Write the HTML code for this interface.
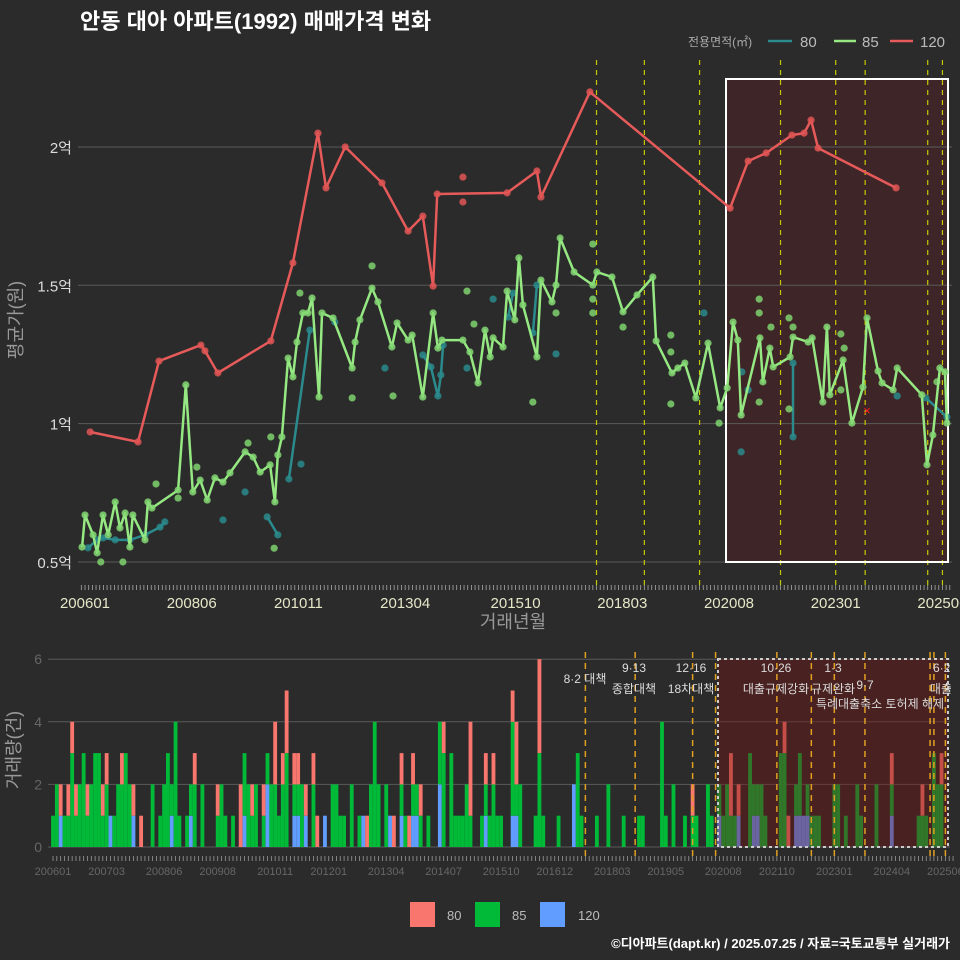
<!DOCTYPE html>
<html><head><meta charset="utf-8">
<style>
html,body{margin:0;padding:0;background:#2b2b2b;}
svg{display:block;font-family:"Liberation Sans","Noto Sans CJK KR",sans-serif;}
</style></head>
<body>
<svg id="chart" width="960" height="960" viewBox="0 0 960 960">
<rect x="0" y="0" width="960" height="960" fill="#2b2b2b"/>
<text x="80" y="29" fill="#ffffff" font-size="22" font-weight="bold">안동 대아 아파트(1992) 매매가격 변화</text>
<g>
<text x="688" y="46" fill="#aaaaaa" font-size="12">전용면적(㎡)</text>
<line x1="768" y1="41" x2="792" y2="41" stroke="#2a8a8c" stroke-width="2.5"/>
<text x="800" y="47" fill="#bbbbbb" font-size="15">80</text>
<line x1="834" y1="41" x2="856" y2="41" stroke="#95e882" stroke-width="2.5"/>
<text x="862" y="47" fill="#bbbbbb" font-size="15">85</text>
<line x1="890" y1="41" x2="913" y2="41" stroke="#e65a5a" stroke-width="2.5"/>
<text x="920" y="47" fill="#bbbbbb" font-size="15">120</text>
</g>
<g id="topPanel"></g>
<g id="botPanel"></g>
<g>
<rect x="410" y="902" width="25" height="25" fill="#F8766D"/>
<text x="447" y="920" fill="#bbbbbb" font-size="13">80</text>
<rect x="475" y="902" width="25" height="25" fill="#00BA38"/>
<text x="512" y="920" fill="#bbbbbb" font-size="13">85</text>
<rect x="540" y="902" width="25" height="25" fill="#619CFF"/>
<text x="578" y="920" fill="#bbbbbb" font-size="13">120</text>
</g>
<text x="950" y="948" fill="#ffffff" font-size="13" font-weight="bold" text-anchor="end">©디아파트(dapt.kr) / 2025.07.25 / 자료=국토교통부 실거래가</text>
</svg>
<script>
// ---- data (months since 2006-01, prices in 만원) ----
const greenM=[-0.8,0,2.2,3.3,4.9,6.3,8.2,9.5,10.9,12.2,13,16.3,17.1,18.2,25.3,27.4,29.3,31.3,33.2,35.3,37.5,39.4,43.5,45.7,47.6,50.3,51.6,52.4,53.5,55.2,56.5,57.6,59.2,60.6,61.7,63.6,64.4,67.4,72.6,73.4,74.7,78,79.6,83.4,84.8,87.8,88.9,91.8,94.6,95.9,97,102.7,104.6,106.8,108.7,110.1,110.9,113.6,114.7,116.8,117.9,119,122.8,123.9,126.9,128,129.1,132.9,138,139.1,143.2,146.2,150,154.3,155.2,159.5,161.1,163,166,169.3,172.6,174.5,176.1,177.4,178.3,183.4,184.2,186.1,187,191.6,192.4,196.5,197.6,200.5,201.6,202.4,206,208.4,211.4,212.5,215.5,216.6,219.6,220.7,227.4,228.8,230.4,232.3,233.7,234.2];
const greenV=[5540,6700,5980,5330,6700,5980,7170,6230,6770,5540,6700,5800,7170,6950,7600,11400,7530,7960,7240,8040,7890,8220,8980,8790,8250,8510,7170,8870,9520,12370,11690,12950,14000,14000,14540,10960,14000,13820,12010,12950,13750,14900,14400,12770,13640,13020,13200,10960,14000,12730,13020,13020,12590,11470,13380,12410,13100,12770,14790,13750,15990,14290,12410,15190,14400,15010,16710,15480,15010,15480,15300,14040,14650,15300,12990,11830,12010,12190,10930,12910,10570,11290,13670,13020,10310,13100,11510,12730,12050,12410,13130,12950,13100,10780,13490,11040,12300,10020,11320,13820,11900,11470,11220,12010,11040,8510,9590,12010,11870,10020];
const greenExtraM=[19.3,4.3,10.3,25.3,44.3,50.5,51.4,58.4,72.6,30.4,78,103.8,105.7,83.7,121.7,138,138,138,146.2,159.2,159.2,159.2,128,183.2,183.2,186.4,183.2,191.3,192.4,191.3,205.4,206.3,205.4,172.3,231.5];
const greenExtraV=[7820,5000,5000,7310,9300,9520,5500,14720,10930,8430,15700,14790,13600,11000,10780,16490,14500,14000,13490,13200,12590,10710,14000,14500,14000,13490,10780,13820,13490,10530,13240,12730,11220,10020,11510];
const redM=[1.4,14.4,20.1,31.5,32.6,36.1,50.5,56.5,63.3,65.5,70.7,80.7,87.8,91.8,94.6,95.7,114.7,122.8,123.9,137.2,175.3,180.2,185.1,192.1,195.4,197.3,199.2,220.4];
const redV=[9700,9340,12260,12840,12630,11830,12990,15810,20500,18520,20000,18700,16960,17500,14970,18300,18340,19130,18190,21990,17790,19490,19780,20430,20500,20970,19960,18520];
const redExtraM=[102.7,102.7];
const redExtraV=[18910,18010];
const tealSegM=[[0.8,3.3,4.9,8.2,12.2,16.3,20.4,21.7],[49.5,52.4],[55.4,61.1],[91.8,94,95.9,96.7,97.3],[115,116.3],[121.7,122.8],[192.4,192.4],[228.5,234.2]];
const tealSegV=[[5510,5800,5870,5800,5800,5980,6260,6450],[6630,5980],[8000,13380],[12480,12050,11000,11760,12840],[13850,14720],[13280,15010],[12190,9520],[10930,10240]];
const tealExtraM=[168.2,178.5,180.2,178.3,220.7,110.9,81.5,103.8,128,37.5,43.5,67.9,58.7];
const tealExtraV=[14000,11870,11220,8980,11000,14500,12010,12010,12520,6520,7530,13670,8540];
const yTickVals=[5000,10000,15000,20000];
const yTickLabels=["0.5억","1억","1.5억","2억"];
const xTickLabels=["200601","200806","201011","201304","201510","201803","202008","202301","202506"];
const topPolicyM=[139,152,167,189,204,212,229,233];
const vol80={2:1,4:1,5:1,6:1,9:1,13:1,14:1,18:1,21:1,23:1,37:1,43:1,49:2,52:1,55:1,58:2,60:1,61:2,63:1,64:1,66:1,68:1,69:1,82:1,89:1,91:1,93:1,94:1,96:1,102:1,109:3,113:1,115:1,120:1,121:2,127:3,167:1,177:2,179:1,191:1,192:1,219:1,227:1,232:1};
const vol85={0:1,1:2,3:1,4:1,5:3,6:1,7:2,8:3,9:1,10:2,11:3,12:3,13:1,14:2,16:1,17:2,18:2,19:3,20:2,26:2,28:1,29:2,30:3,31:1,32:4,33:1,35:1,36:1,37:2,39:2,43:1,44:2,45:1,47:1,50:2,51:2,52:1,53:2,55:1,56:1,57:2,58:2,59:1,60:2,61:3,63:1,64:1,65:2,68:2,73:2,74:2,75:1,76:1,78:2,80:1,83:2,84:4,85:2,87:2,91:1,92:1,94:1,95:1,96:1,98:1,101:2,102:3,104:3,105:1,106:1,107:1,108:2,109:1,112:1,113:1,114:1,115:2,116:1,117:1,120:3,121:1,122:2,126:1,127:3,128:1,132:1,137:3,138:1,142:1,145:2,149:1,153:1,154:1,159:4,160:1,162:2,165:1,167:1,168:1,171:2,172:1,174:1,175:1,176:2,177:1,178:1,182:3,183:1,184:1,185:2,186:1,190:3,191:3,194:1,195:2,197:1,198:1,199:1,200:1,204:2,205:2,207:1,210:2,211:1,215:2,219:1,226:1,227:1,228:1,230:3,231:2,232:2};
const vol120={2:1,15:1,21:1,31:1,36:1,50:1,56:2,63:1,64:1,66:1,71:1,81:1,88:1,91:1,94:1,95:1,101:2,113:1,120:1,121:1,136:2,174:1,179:1,183:1,184:1,194:1,195:1,196:1,197:1,219:1};
const botYTicks=[0,2,4,6];
const botXTickLabels=["200601","200703","200806","200908","201011","201201","201304","201407","201510","201612","201803","201905","202008","202110","202301","202404","202506"];
const botPolicyM=[139,152,167,173,189,198,204,212,229,230,233];

const tx=m=>85+3.68*m;
const ty=v=>562-(v-5000)*0.02767;
const bx=m=>53+3.83*m;
const by=c=>847-31.3*c;
const ym=s=>(parseInt(s.slice(0,4))-2006)*12+parseInt(s.slice(4,6))-1;
const NS="http://www.w3.org/2000/svg";
function mk(parent,tag,attrs){const el=document.createElementNS(NS,tag);for(const k in attrs)el.setAttribute(k,attrs[k]);parent.appendChild(el);return el;}
const topG=document.getElementById('topPanel');
const botG=document.getElementById('botPanel');

let e;
e=mk(topG,'rect',{x:726,y:79,width:222,height:483,fill:'#3e2527'});


yTickVals.forEach((v,i)=>{
  e=mk(topG,'line',{x1:78,x2:952,y1:ty(v),y2:ty(v),stroke:'#5a5a5a','stroke-width':1});
  
  
  e=mk(topG,'text',{x:72,y:ty(v)+6,fill:'#dddddd','font-size':15,'text-anchor':'end'});
  e.textContent=yTickLabels[i];
  
  
});
for(let m=-1;m<=235;m++){
  e=mk(topG,'line',{x1:tx(m),x2:tx(m),y1:585,y2:590,stroke:'#aaaaaa','stroke-width':0.8});
  
  
}
xTickLabels.forEach(s=>{
  e=mk(topG,'text',{x:tx(ym(s)),y:608,fill:'#e6e6c8','font-size':15,'text-anchor':'middle'});
  e.textContent=s;
  
  
});
topPolicyM.forEach(m=>{
  e=mk(topG,'line',{x1:tx(m),x2:tx(m),y1:60,y2:585,stroke:'#c8c800','stroke-width':1.2,'stroke-dasharray':'5,5'});
  
  
});
e=mk(topG,'rect',{x:726,y:79,width:222,height:483,fill:'none',stroke:'#ffffff','stroke-width':2});



function drawLine(ms,vs,color,name){
  const d=ms.map((m,i)=>(i?'L':'M')+tx(m).toFixed(1)+','+ty(vs[i]).toFixed(1)).join(' ');
  const p=mk(topG,'path',{d:d,fill:'none',stroke:color,'stroke-width':2.5,'stroke-linejoin':'round'});
  
  
}
function drawPts(ms,vs,color,name){
  ms.forEach((m,i)=>{
    const c=mk(topG,'circle',{cx:tx(m),cy:ty(vs[i]),r:3.6,fill:color,'fill-opacity':0.85});
    
    
  });
}
tealSegM.forEach((seg,i)=>drawLine(seg,tealSegV[i],'#2a8a8c','line-80'));
tealSegM.forEach((seg,i)=>drawPts(seg,tealSegV[i],'#2a8a8c','point-80'));
drawPts(tealExtraM,tealExtraV,'#2a8a8c','point-80');
drawPts(greenExtraM,greenExtraV,'#7fd26f','point-85');
drawLine(greenM,greenV,'#95e882','line-85');
drawPts(greenM,greenV,'#85d874','point-85');
drawLine(redM,redV,'#e65a5a','line-120');
drawPts(redM,redV,'#e05555','point-120');
drawPts(redExtraM,redExtraV,'#e05555','point-120');
e=mk(topG,'text',{x:tx(212.5),y:ty(10490)+5,fill:'#ff2020','font-size':13,'text-anchor':'middle'});
e.textContent='×';


e=mk(topG,'text',{x:22,y:320,fill:'#999999','font-size':18,'text-anchor':'middle',transform:'rotate(-90 22 320)'});
e.textContent='평균가(원)';


e=mk(topG,'text',{x:513,y:628,fill:'#999999','font-size':18,'text-anchor':'middle'});
e.textContent='거래년월';



botYTicks.forEach(c=>{
  e=mk(botG,'line',{x1:48,x2:950,y1:by(c),y2:by(c),stroke:'#5a5a5a','stroke-width':1});
  
  
  e=mk(botG,'text',{x:42,y:by(c)+5,fill:'#666666','font-size':14,'text-anchor':'end'});
  e.textContent=c;
  
  
});
for(let m=0;m<=235;m++){
  let base=0;
  [[vol120,'#619CFF','bar-120'],[vol85,'#00BA38','bar-85'],[vol80,'#F8766D','bar-80']].forEach(([arr,col,nm])=>{
    const c=arr[m]||0;
    if(c>0){
      const r=mk(botG,'rect',{x:bx(m)-1.9,y:by(base+c),width:3.83,height:by(base)-by(base+c),fill:col});
      
      
      base+=c;
    }
  });
}
e=mk(botG,'rect',{x:718,y:659,width:230,height:188,fill:'rgb(120,20,20)','fill-opacity':0.4,stroke:'#cccccc','stroke-width':2,'stroke-dasharray':'3,3'});


botPolicyM.forEach(m=>{
  e=mk(botG,'line',{x1:bx(m),x2:bx(m),y1:652,y2:858,stroke:'#e0a020','stroke-width':1.5,'stroke-dasharray':'6,5'});
  
  
});
for(let m=0;m<=235;m++){
  e=mk(botG,'line',{x1:bx(m),x2:bx(m),y1:856,y2:861,stroke:'#999999','stroke-width':0.8});
  
  
}
botXTickLabels.forEach(s=>{
  e=mk(botG,'text',{x:bx(ym(s)),y:875,fill:'#666666','font-size':11,'text-anchor':'middle'});
  e.textContent=s;
  
  
});
const ann=[[585,683,'8·2 대책'],[634,672,'9·13'],[634,693,'종합대책'],[691,672,'12·16'],[691,693,'18차대책'],[776,672,'10·26'],[776,693,'대출규제강화'],[833,672,'1·3'],[833,693,'규제완화'],[865,689,'9·7'],[880,708,'특례대출축소 토허제 해제'],[945,672,'6·27'],[952,693,'대출규제']];
ann.forEach(a=>{
  e=mk(botG,'text',{x:a[0],y:a[1],fill:'#dddddd','font-size':12,'text-anchor':'middle'});
  e.textContent=a[2];
  
  
});
e=mk(botG,'rect',{x:951,y:640,width:9,height:90,fill:'#2b2b2b'});


e=mk(botG,'text',{x:20,y:750,fill:'#999999','font-size':18,'text-anchor':'middle',transform:'rotate(-90 20 750)'});
e.textContent='거래량(건)';


</script>
</body></html>
